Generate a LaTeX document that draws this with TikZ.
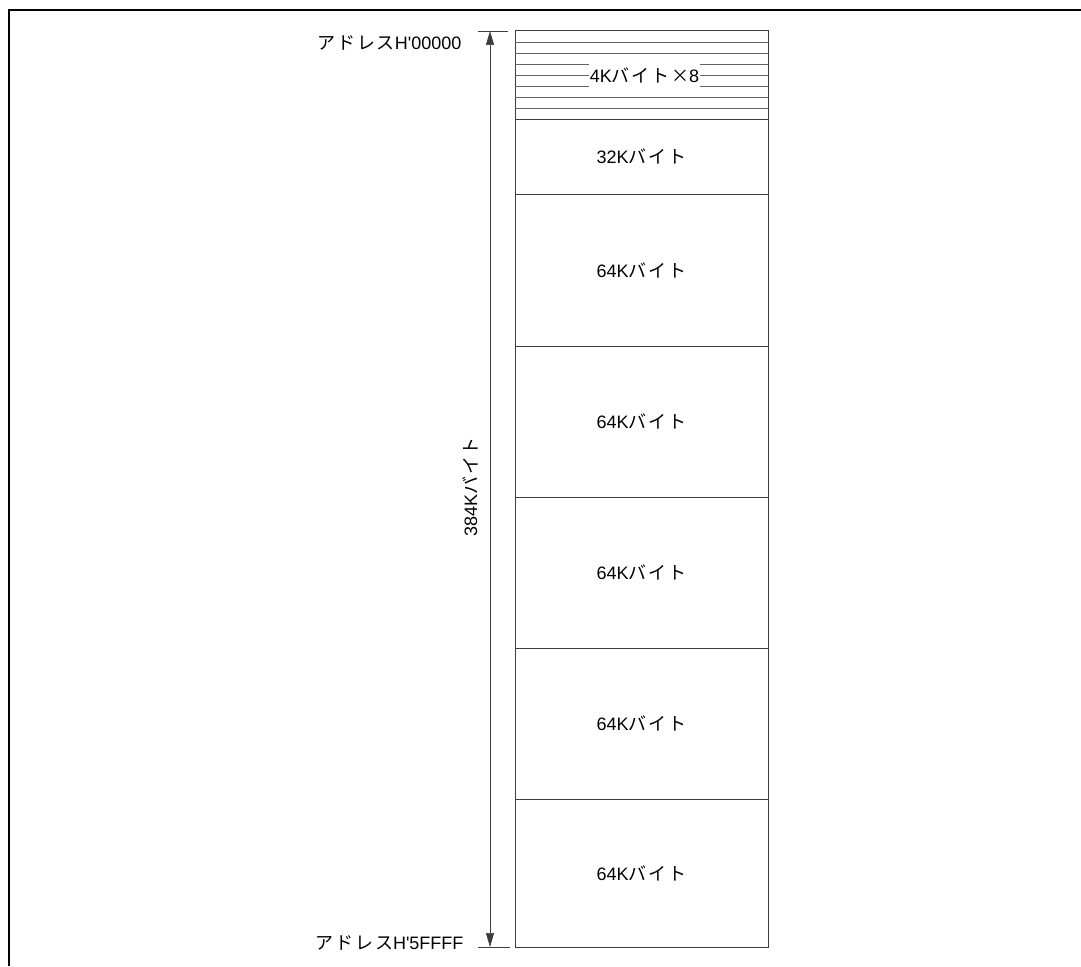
\documentclass[tikz,border=0pt]{standalone}
\usepackage{fontspec}
\setmainfont{Liberation Sans}
\newfontfamily\jp{Noto Sans CJK JP}[LetterSpace=10]
\usepackage{tikz}
\usetikzlibrary{arrows.meta,positioning}
\definecolor{mapLine}{RGB}{60,60,60}
\definecolor{subLine}{RGB}{100,100,100}
\newcommand\lbl{\fontsize{18}{21}\selectfont}
\newcommand\kbyte{{\jp バイト}}

\begin{document}
\begin{tikzpicture}[x=1pt,y=-1pt,
    blk/.style={draw=mapLine,line width=1pt,minimum width=253pt,inner sep=0pt,outer sep=0pt,font=\lbl},
    sub/.style={draw=subLine,line width=0.8pt},
    dim/.style={{Triangle[length=14pt,width=8pt]}-{Triangle[length=14pt,width=8pt]},line width=0.7pt,draw=mapLine},
    tick/.style={line width=0.7pt,draw=mapLine}
  ]
    \useasboundingbox (0,0) rectangle (1081,966);
    \draw[line width=1.8pt] (9,966) -- (9,10) -- (1081,10);
    % memory blocks
    \node[blk,minimum height=88pt,anchor=north west] (k4) at (515,31) {};
    \foreach \i in {1,...,7} \draw[sub] (515,31+11*\i) -- (768,31+11*\i);
    \node[fill=white,inner xsep=0.5pt,inner ysep=4pt,font=\lbl] (k4txt) at ([xshift=3pt]k4) {4K\kbyte{\jp ×}8};
    \node[blk,minimum height=75pt,below=0pt of k4] (k32) {32K\kbyte};
    \node[blk,minimum height=152pt,below=0pt of k32] (b1) {64K\kbyte};
    \node[blk,minimum height=151pt,below=0pt of b1] (b2) {64K\kbyte};
    \node[blk,minimum height=151pt,below=0pt of b2] (b3) {64K\kbyte};
    \node[blk,minimum height=151pt,below=0pt of b3] (b4) {64K\kbyte};
    \node[blk,minimum height=148pt,below=0pt of b4] (b5) {64K\kbyte};
    % size dimension
    \coordinate (dtop) at (490,31);
    \coordinate (dbot) at (490,947);
    \draw[dim] (dtop) -- (dbot);
    \draw[tick] ([xshift=-12pt]dtop) -- ([xshift=18pt]dtop);
    \draw[tick] ([xshift=-12pt]dbot) -- ([xshift=20pt]dbot);
    \node[rotate=90,font=\lbl] (size) at (470,487) {384K\kbyte};
    \node[anchor=east,font=\lbl] (atop) at (465,43) {{\jp アドレス}H\textquotesingle 00000};
    \node[anchor=east,font=\lbl] (abot) at (467,943) {{\jp アドレス}H\textquotesingle 5FFFF};
\end{tikzpicture}
\end{document}
